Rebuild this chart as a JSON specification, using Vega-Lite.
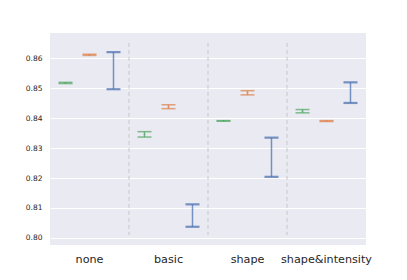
{
  "$schema": "https://vega.github.io/schema/vega-lite/v6.json",
  "autosize": {"type": "none"},
  "width": 316,
  "height": 212,
  "padding": {"left": 50, "top": 33, "right": 41, "bottom": 35},
  "background": "white",
  "config": {
    "view": {"fill": "#eaeaf2", "stroke": null},
    "font": "DejaVu Sans",
    "axisY": {"labelOverlap": false, "domain": false, "ticks": false, "labelFontSize": 7.5, "labelColor": "#262626", "labelPadding": 8, "grid": true, "gridColor": "white", "gridWidth": 1, "title": null}
  },
  "data": {
    "values": [
      {"cat": "none", "model": "g", "lo": 0.8516, "hi": 0.8520, "mid": 0.8518},
      {"cat": "none", "model": "o", "lo": 0.8610, "hi": 0.8614, "mid": 0.8612},
      {"cat": "none", "model": "b", "lo": 0.8497, "hi": 0.8621, "mid": 0.8559},
      {"cat": "basic", "model": "g", "lo": 0.8337, "hi": 0.8355, "mid": 0.8346},
      {"cat": "basic", "model": "o", "lo": 0.8432, "hi": 0.8445, "mid": 0.8438},
      {"cat": "basic", "model": "b", "lo": 0.8037, "hi": 0.8112, "mid": 0.8075},
      {"cat": "shape", "model": "g", "lo": 0.8390, "hi": 0.8392, "mid": 0.8391},
      {"cat": "shape", "model": "o", "lo": 0.8478, "hi": 0.8492, "mid": 0.8485},
      {"cat": "shape", "model": "b", "lo": 0.8204, "hi": 0.8335, "mid": 0.8270},
      {"cat": "shape&intensity", "model": "g", "lo": 0.8418, "hi": 0.8429, "mid": 0.8424},
      {"cat": "shape&intensity", "model": "o", "lo": 0.8389, "hi": 0.8392, "mid": 0.8391},
      {"cat": "shape&intensity", "model": "b", "lo": 0.8451, "hi": 0.8520, "mid": 0.8485}
    ]
  },
  "encoding": {
    "x": {
      "field": "cat", "type": "nominal", "sort": null,
      "scale": {"paddingInner": 0, "paddingOuter": 0, "domain": ["none", "basic", "shape", "shape&intensity"]},
      "axis": {"title": null, "labelAngle": 0, "domain": false, "ticks": false, "labelFontSize": 11.2, "labelColor": "#262626", "labelPadding": 8, "grid": false}
    },
    "xOffset": {
      "field": "model", "type": "nominal",
      "scale": {"domain": ["g", "o", "b"], "paddingInner": 0, "paddingOuter": 0.146}
    },
    "color": {
      "field": "model", "type": "nominal",
      "scale": {"domain": ["g", "o", "b"], "range": ["#55a868", "#dd8452", "#4c72b0"]},
      "legend": null
    },
    "opacity": {
      "field": "model", "type": "nominal",
      "scale": {"domain": ["g", "o", "b"], "range": [0.75, 0.75, 1]},
      "legend": null
    }
  },
  "layer": [
    {
      "mark": {"type": "rule"},
      "encoding": {
        "y": {
          "field": "lo", "type": "quantitative",
          "scale": {"domain": [0.7976, 0.8685], "nice": false, "zero": false},
          "axis": {"values": [0.80, 0.81, 0.82, 0.83, 0.84, 0.85, 0.86], "format": ".2f"}
        },
        "y2": {"field": "hi"},
        "strokeWidth": {
          "field": "model", "type": "nominal",
          "scale": {"domain": ["g", "o", "b"], "range": [1.5, 1.5, 2.2]},
          "legend": null
        }
      }
    },
    {
      "transform": [{"filter": "datum.model != 'b'"}],
      "mark": {"type": "tick", "size": 14, "thickness": 1.5},
      "encoding": {"y": {"field": "lo", "type": "quantitative", "axis": {"values": [0.80, 0.81, 0.82, 0.83, 0.84, 0.85, 0.86], "format": ".2f"}}}
    },
    {
      "transform": [{"filter": "datum.model != 'b'"}],
      "mark": {"type": "tick", "size": 14, "thickness": 1.5},
      "encoding": {"y": {"field": "hi", "type": "quantitative", "axis": {"values": [0.80, 0.81, 0.82, 0.83, 0.84, 0.85, 0.86], "format": ".2f"}}}
    },
    {
      "transform": [{"filter": "datum.model == 'b'"}],
      "mark": {"type": "tick", "size": 14, "thickness": 2.2},
      "encoding": {"y": {"field": "lo", "type": "quantitative", "axis": {"values": [0.80, 0.81, 0.82, 0.83, 0.84, 0.85, 0.86], "format": ".2f"}}}
    },
    {
      "transform": [{"filter": "datum.model == 'b'"}],
      "mark": {"type": "tick", "size": 14, "thickness": 2.2},
      "encoding": {"y": {"field": "hi", "type": "quantitative", "axis": {"values": [0.80, 0.81, 0.82, 0.83, 0.84, 0.85, 0.86], "format": ".2f"}}}
    },
    {
      "transform": [{"filter": "datum.model != 'b'"}],
      "mark": {"type": "point", "filled": true, "size": 3},
      "encoding": {"y": {"field": "mid", "type": "quantitative", "axis": {"values": [0.80, 0.81, 0.82, 0.83, 0.84, 0.85, 0.86], "format": ".2f"}}}
    },
    {
      "transform": [{"filter": "datum.model == 'g' && datum.cat != 'none'"}],
      "mark": {"type": "rule", "strokeDash": [4, 3], "color": "#c8c8c8", "strokeWidth": 1},
      "encoding": {
        "x": {"field": "cat", "type": "nominal", "bandPosition": 0},
        "xOffset": null,
        "color": null,
        "opacity": null,
        "y": {"datum": 0.8652, "type": "quantitative", "axis": {"values": [0.80, 0.81, 0.82, 0.83, 0.84, 0.85, 0.86], "format": ".2f"}},
        "y2": {"datum": 0.8009}
      }
    }
  ]
}
